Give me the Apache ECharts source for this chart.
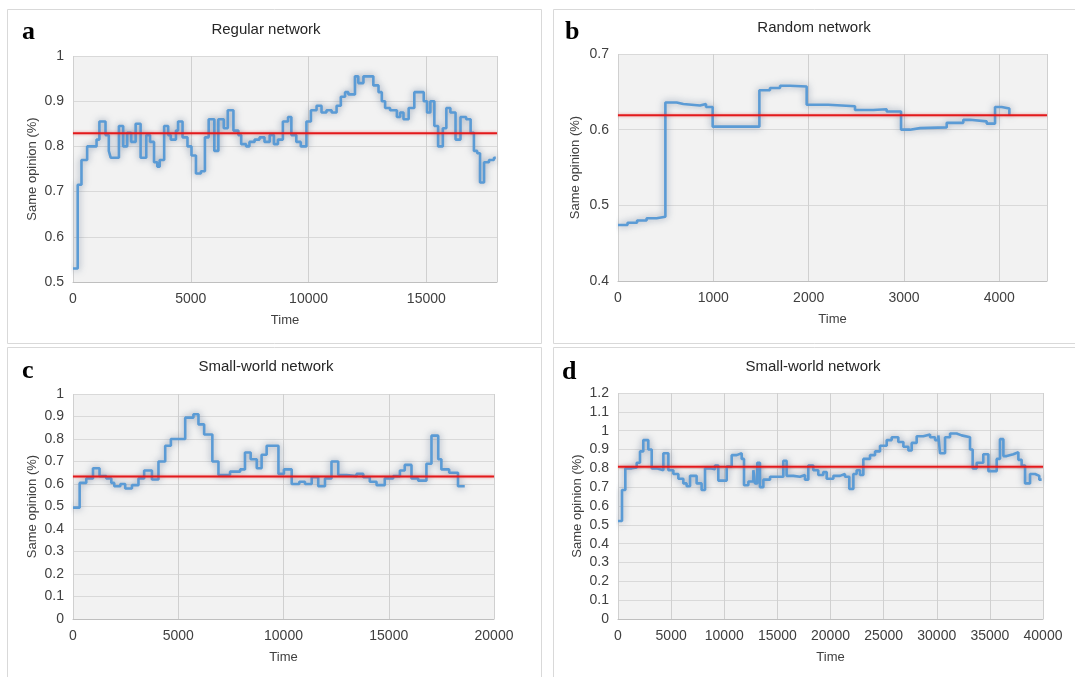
<!DOCTYPE html>
<html><head><meta charset="utf-8">
<script src="https://cdn.jsdelivr.net/npm/echarts@6/dist/echarts.min.js"></script>
<style>html,body{margin:0;padding:0;background:#fff}#c{width:1075px;height:677px}</style>
</head><body><div id="c"></div>
<script>
// ---- data (step levels: value holds from time t until the next time) ----
const timeA = [0,200,360,600,1000,1120,1380,1520,1600,1950,2130,2300,2470,2660,2870,3110,3270,3440,3580,3680,3870,4040,4150,4370,4460,4650,4860,5030,5220,5430,5600,5760,6000,6170,6400,6570,6810,7020,7140,7350,7490,7710,7920,8130,8350,8530,8700,8910,9130,9270,9480,9670,9910,10100,10340,10550,10760,10980,11190,11370,11550,11690,11970,12110,12330,12750,12970,13110,13250,13460,13750,13890,14030,14250,14490,14890,15030,15170,15340,15500,15700,15850,16020,16240,16450,16690,16880,17020,17160,17280,17450,17660,17870,17950];
const valueA = [0.53,0.715,0.77,0.80,0.815,0.855,0.825,0.79,0.775,0.845,0.80,0.83,0.81,0.85,0.775,0.825,0.81,0.765,0.755,0.77,0.845,0.825,0.815,0.835,0.855,0.82,0.80,0.78,0.74,0.745,0.82,0.86,0.79,0.86,0.84,0.88,0.835,0.825,0.805,0.80,0.81,0.815,0.82,0.81,0.825,0.805,0.815,0.855,0.865,0.825,0.81,0.80,0.855,0.88,0.89,0.875,0.88,0.875,0.89,0.91,0.92,0.915,0.955,0.94,0.955,0.935,0.92,0.90,0.885,0.88,0.865,0.875,0.86,0.885,0.92,0.90,0.875,0.90,0.845,0.80,0.84,0.885,0.875,0.815,0.865,0.86,0.83,0.79,0.785,0.72,0.765,0.77,0.775,0.775];
const meanA = 0.829;

const timeB = [0,100,200,300,405,497,615,685,860,923,993,1483,1594,1700,1804,1979,2206,2486,2678,2818,2969,3063,3168,3448,3622,3692,3867,3955,4024,4105];
const valueB = [0.474,0.477,0.480,0.483,0.485,0.636,0.634,0.632,0.634,0.630,0.604,0.652,0.655,0.658,0.657,0.633,0.631,0.626,0.627,0.624,0.600,0.602,0.603,0.609,0.613,0.611,0.608,0.630,0.628,0.619];
const meanB = 0.619;

const timeC = [0,316,630,950,1260,1580,1820,1960,2250,2480,2800,3110,3380,3750,4060,4380,4650,5330,5720,5960,6230,6620,6910,7460,7940,8170,8440,8730,8960,9200,9760,10020,10390,10750,11020,11340,11650,11970,12280,12600,13000,13470,13790,14100,14420,14810,15210,15530,15760,16080,16400,16790,17030,17350,17500,17870,18290,18610];
const valueC = [0.495,0.605,0.625,0.67,0.635,0.625,0.605,0.59,0.60,0.58,0.595,0.625,0.66,0.62,0.70,0.77,0.80,0.895,0.91,0.865,0.82,0.70,0.64,0.655,0.665,0.74,0.71,0.67,0.73,0.77,0.645,0.665,0.60,0.61,0.60,0.63,0.59,0.625,0.70,0.64,0.635,0.645,0.63,0.61,0.595,0.625,0.635,0.66,0.685,0.625,0.615,0.69,0.815,0.71,0.665,0.65,0.59,0.59];
const meanC = 0.633;

const timeD = [0,376,690,1290,1760,2070,2380,2850,3170,3640,4270,4740,5210,5680,6150,6460,6780,7400,7870,8190,8660,9130,9440,10230,10700,11170,11640,11860,12270,12740,12890,13110,13360,13680,14310,15560,15870,16500,17130,17600,17910,18380,18850,19320,19640,20270,20890,21360,21770,22150,22460,22780,23090,23720,24190,24660,25290,25760,26380,26860,27330,27640,28110,28740,29370,29840,30150,30310,30780,31250,31870,32340,33130,33380,33760,34380,34860,35640,35950,36270,36580,37210,37680,37990,38310,38780,39250,39650,39870];
const valueD = [0.52,0.685,0.80,0.805,0.83,0.89,0.95,0.90,0.80,0.79,0.88,0.79,0.77,0.745,0.72,0.705,0.76,0.72,0.685,0.80,0.795,0.815,0.735,0.81,0.87,0.88,0.85,0.71,0.73,0.79,0.72,0.83,0.70,0.74,0.755,0.84,0.76,0.755,0.765,0.74,0.815,0.79,0.765,0.78,0.745,0.76,0.77,0.755,0.69,0.77,0.79,0.765,0.85,0.87,0.89,0.92,0.95,0.965,0.94,0.915,0.895,0.935,0.97,0.98,0.965,0.95,0.975,0.88,0.965,0.985,0.975,0.965,0.90,0.80,0.83,0.875,0.785,0.85,0.955,0.865,0.875,0.885,0.845,0.815,0.72,0.77,0.76,0.74,0.74];
const meanD = 0.809;

const titles = ['Regular network','Random network','Small-world network','Small-world network'];
const letters = ['a','b','c','d'];
const xMax = [18000, 4500, 20000, 40000];
const xInterval = [5000, 1000, 5000, 5000];
const yMin = [0.5, 0.4, 0, 0];
const yMax = [1, 0.7, 1, 1.2];

// ---- build ----
const times = [timeA, timeB, timeC, timeD];
const vals = [valueA, valueB, valueC, valueD];
const means = [meanA, meanB, meanC, meanD];

const grids = [
  {left:73, top:56, width:424, height:226},
  {left:618, top:54, width:429, height:227},
  {left:73, top:394, width:421, height:225},
  {left:618, top:393, width:425, height:226}
];
const yNameGap = [34, 36, 34, 34];
const FONT = "'Liberation Sans', Arial, sans-serif";
const txt = '#404040';

const option = {
  animation: false,
  backgroundColor: '#ffffff',
  grid: grids.map(g => Object.assign({show:true, backgroundColor:'#f2f2f2', borderWidth:0}, g)),
  xAxis: grids.map((g,i) => ({
    type:'value', gridIndex:i, min:0, max:xMax[i], interval:xInterval[i],
    axisLine:{show:true, lineStyle:{color:'#bfbfbf', width:1}},
    axisTick:{show:false},
    splitLine:{show:true, lineStyle:{color:'#d0d0d0', width:1}},
    axisLabel:{color:txt, fontSize:14, fontFamily:FONT, margin:10, showMaxLabel: (i>=2),
      formatter: v => String(v)},
    name:'Time', nameLocation:'middle', nameGap:32,
    nameTextStyle:{color:txt, fontSize:13, fontFamily:FONT}
  })),
  yAxis: grids.map((g,i) => ({
    type:'value', gridIndex:i, min:yMin[i], max:yMax[i], interval:0.1,
    axisLine:{show:false}, axisTick:{show:false},
    splitLine:{show:true, lineStyle:{color:'#d9d9d9', width:1}},
    axisLabel:{color:txt, fontSize:14, fontFamily:FONT, margin:9},
    name:'Same opinion (%)', nameLocation:'middle', nameGap:yNameGap[i],
    nameTextStyle:{color:txt, fontSize:13, fontFamily:FONT}
  })),
  series: [],
  graphic: []
};

for (let i = 0; i < 4; i++) {
  const n = Math.min(times[i].length, vals[i].length);
  const data = [];
  for (let k = 0; k < n; k++) data.push([times[i][k], vals[i][k]]);
  option.series.push({
    type:'line', xAxisIndex:i, yAxisIndex:i, data:data, step:'end',
    showSymbol:false, symbol:'none', silent:true,
    lineStyle:{color:'#5b9bd5', width:2.6, shadowBlur:7, shadowColor:'rgba(70,95,130,0.6)'},
    z:2
  });
  option.series.push({
    type:'line', xAxisIndex:i, yAxisIndex:i,
    data:[[0, means[i]], [xMax[i], means[i]]],
    showSymbol:false, symbol:'none', silent:true,
    lineStyle:{color:'#e31a1c', width:2, shadowBlur:3, shadowColor:'rgba(230,30,30,0.45)'},
    z:3
  });
}

const boxes = [
  {x:7.5, y:9.5, width:534, height:334},
  {x:553.5, y:9.5, width:540, height:334},
  {x:7.5, y:347.5, width:534, height:340},
  {x:553.5, y:347.5, width:540, height:340}
];
const titlePos = [[266,30],[814,28],[266,367],[813,367]];
const letterPos = [[22,32],[565,32],[22,371],[562,372]];
boxes.forEach((b,i) => {
  option.graphic.push({type:'rect', shape:b, style:{fill:'none', stroke:'#d9d9d9', lineWidth:1}, z:-10, silent:true});
  option.graphic.push({type:'text', x:titlePos[i][0], y:titlePos[i][1],
    style:{text:titles[i], fill:'#262626', font:"15px " + FONT, align:'center', verticalAlign:'middle'}, z:10});
  option.graphic.push({type:'text', x:letterPos[i][0], y:letterPos[i][1],
    style:{text:letters[i], fill:'#000', font:"bold 26px 'Liberation Serif', 'Times New Roman', serif", align:'left', verticalAlign:'middle'}, z:10});
});

const chart = echarts.init(document.getElementById('c'), null, {renderer:'canvas'});
chart.setOption(option);
</script></body></html>
